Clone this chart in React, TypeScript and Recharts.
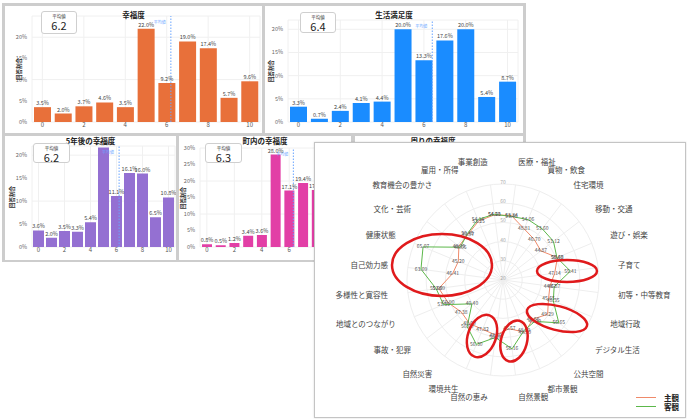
import {
  BarChart, Bar, XAxis, YAxis, CartesianGrid, ReferenceLine, LabelList,
  RadarChart, Radar, PolarGrid, PolarAngleAxis, PolarRadiusAxis,
} from 'recharts'

// score buckets 0..10 shared by the four histograms
const scores = [0, 1, 2, 3, 4, 5, 6, 7, 8, 9, 10]
const scoreTicks = [0, 2, 4, 6, 8, 10]

const happiness = [3.5, 2.0, 3.7, 4.6, 3.5, 22.0, 9.2, 19.0, 17.4, 5.7, 9.6]
const lifeSatisfaction = [3.3, 0.7, 2.4, 4.1, 4.4, 20.0, 13.3, 17.6, 20.0, 5.4, 8.7]
const happinessIn5Years = [3.6, 2.0, 3.5, 3.3, 5.4, 21.7, 11.1, 16.1, 16.0, 6.5, 10.8]
const townHappiness = [0.8, 0.5, 1.2, 3.4, 3.6, 28.0, 17.1, 19.4, 17.3, 4.5, 8.0]

const happinessAvg = 6.2
const lifeSatisfactionAvg = 6.4
const happinessIn5YearsAvg = 6.2
const townHappinessAvg = 6.3

const radarCategories = [
  '事業創造', '医療・福祉', '買物・飲食', '住宅環境', '移動・交通', '遊び・娯楽',
  '子育て', '初等・中等教育', '地域行政', 'デジタル生活', '公共空間', '都市景観',
  '自然景観', '自然の恵み', '環境共生', '自然災害', '事故・犯罪', '地域とのつながり',
  '多様性と寛容性', '自己効力感', '健康状態', '文化・芸術', '教育機会の豊かさ', '雇用・所得',
]
const subjective = [
  54.23, 53.84, 48.81, 46.70, 44.87, 50.68, 47.14, 44.67, 45.65, 49.29, 45.68, 49.50,
  45.57, 48.90, 47.82, 48.60, 47.38, 50.90, 53.69, 46.41, 45.20, 48.95, 49.97, 53.25,
]
const objective = [
  54.50, 53.40, 54.06, 53.60, 53.12, 50.40, 55.41, 46.87, 48.35, 56.65, 47.20, 48.50,
  56.16, 50.20, 56.30, 50.60, 40.40, 53.55, 55.09, 63.09, 65.07, 48.05, 50.45, 54.14,
]

const SUBJ_COLOR = '#ef8a6a'
const OBJ_COLOR = '#5cb84a'
const FONT = "'Noto Sans CJK JP', 'Noto Sans', sans-serif"

interface HistProps {
  title: string
  avg: number
  values: number[]
  color: string
  left: number
  top: number
  width: number
  height: number
  marginTop: number
  marginRight: number
  marginBottom: number
  yWidth: number
  yMax: number
  yTicks: number[]
  barSize: number
  box: { left: number; top: number; width: number; height: number }
  yLabelX: number
  titleTop: number
}

function Histogram(p: HistProps) {
  const rows = scores.map((s, i) => ({ score: s, pct: p.values[i] }))
  const plotMid = p.marginTop + (p.height - p.marginTop - p.marginBottom - 10) / 2
  return (
    <div style={{ position: 'absolute', left: p.left, top: p.top, width: p.width, height: p.height, background: '#fff', overflow: 'hidden' }}>
      <BarChart width={p.width} height={p.height} data={rows}
        margin={{ top: p.marginTop, right: p.marginRight, bottom: p.marginBottom, left: 0 }}>
        <CartesianGrid stroke="#f0f0f0" />
        <XAxis dataKey="score" type="number" domain={[-0.5, 10.5]} ticks={scoreTicks} height={10}
          tick={{ fontSize: 6, fill: '#555' }} axisLine={false} tickLine={false} tickSize={0} tickMargin={1} />
        <YAxis width={p.yWidth} domain={[0, p.yMax]} ticks={p.yTicks} tickFormatter={v => `${v}%`}
          tick={{ fontSize: 5.5, fill: '#666' }} axisLine={false} tickLine={false} tickSize={3} allowDataOverflow />
        <ReferenceLine x={p.avg} stroke="#6aa5ff" strokeDasharray="1.5 1.5"
          label={{ value: '平均値', position: 'insideTopRight', fontSize: 4, fill: '#6aa5ff' }} />
        <Bar dataKey="pct" fill={p.color} barSize={p.barSize} isAnimationActive={false}>
          <LabelList dataKey="pct" position="top" offset={2}
            formatter={(v: any) => `${Number(v).toFixed(1)}%`} style={{ fontSize: 5.5, fill: '#444' }} />
        </Bar>
      </BarChart>
      <div style={{ position: 'absolute', left: 0, right: 0, top: p.titleTop, textAlign: 'center', fontSize: 7.5, fontWeight: 700, color: '#222', lineHeight: '9px' }}>
        {p.title}
      </div>
      <div style={{
        position: 'absolute', left: p.box.left, top: p.box.top, width: p.box.width, height: p.box.height,
        border: '1px solid #cfcfcf', borderRadius: 3, background: '#fff', boxSizing: 'border-box', textAlign: 'center',
      }}>
        <div style={{ fontSize: 4.5, lineHeight: '6px', color: '#333', marginTop: 1 }}>平均値</div>
        <div style={{ fontSize: 11, lineHeight: '12px', color: '#222' }}>{p.avg.toFixed(1)}</div>
      </div>
      <div style={{
        position: 'absolute', left: p.yLabelX - 15, top: plotMid - 4, width: 30, textAlign: 'center',
        fontSize: 5.5, lineHeight: '8px', color: '#333', fontWeight: 700, transform: 'rotate(-90deg)',
      }}>回答割合</div>
    </div>
  )
}

const renderPointLabel = (props: any) => {
  const x = props.x ?? props.viewBox?.x
  const y = props.y ?? props.viewBox?.y
  if (x == null || y == null) return null
  return (
    <text x={x} y={y} dy={1.5} textAnchor="middle" fontSize={5} fill="#555" fontFamily={FONT}>
      {Number(props.value).toFixed(2)}
    </text>
  )
}

export default function App() {
  const radarData = radarCategories.map((c, i) => ({ category: c, subjective: subjective[i], objective: objective[i] }))

  return (
    <div style={{ position: 'absolute', left: 0, top: 0, width: 687, height: 419, overflow: 'hidden', background: '#fff', fontFamily: FONT }}>
      {/* dashboard behind */}
      <div style={{ position: 'absolute', left: 2, top: 3, width: 524, height: 259, background: '#cdcdcd' }} />
      <Histogram title="幸福度" avg={happinessAvg} values={happiness} color="#e8703a"
        left={5} top={6} width={257} height={127} marginTop={10} marginRight={2} marginBottom={1}
        yWidth={27} yMax={25} yTicks={[0, 5, 10, 15, 20]} barSize={17}
        box={{ left: 36, top: 5, width: 36, height: 23 }} yLabelX={14} titleTop={4} />
      <Histogram title="生活満足度" avg={lifeSatisfactionAvg} values={lifeSatisfaction} color="#1a8cff"
        left={265} top={6} width={258} height={127} marginTop={14} marginRight={5} marginBottom={1}
        yWidth={23} yMax={22} yTicks={[0, 5, 10, 15, 20]} barSize={17}
        box={{ left: 35, top: 6, width: 36, height: 21 }} yLabelX={6} titleTop={4} />
      <Histogram title="5年後の幸福度" avg={happinessIn5YearsAvg} values={happinessIn5Years} color="#9470d2"
        left={5} top={136} width={171} height={124} marginTop={10} marginRight={1} marginBottom={3}
        yWidth={27} yMax={22} yTicks={[0, 5, 10, 15, 20]} barSize={11}
        box={{ left: 28, top: 7, width: 37, height: 20 }} yLabelX={7} titleTop={0} />
      <Histogram title="町内の幸福度" avg={townHappinessAvg} values={townHappiness} color="#e23fa6"
        left={179} top={136} width={172} height={124} marginTop={12} marginRight={0} marginBottom={3}
        yWidth={21} yMax={30} yTicks={[0, 5, 10, 15, 20, 25, 30]} barSize={10}
        box={{ left: 26, top: 7, width: 37, height: 20 }} yLabelX={4} titleTop={0} />
      <div style={{ position: 'absolute', left: 355, top: 136, width: 168, height: 124, background: '#fff' }}>
        <div style={{ position: 'absolute', left: 40, top: 0, width: 76, textAlign: 'center', fontSize: 7.5, fontWeight: 700, lineHeight: '9px', color: '#222' }}>
          周りの幸福度
        </div>
      </div>

      {/* radar panel on top */}
      <div style={{
        position: 'absolute', left: 314, top: 142, width: 372, height: 276, background: '#fff',
        border: '1px solid #c4c4c4', boxSizing: 'border-box', boxShadow: '0 0 2px rgba(0,0,0,0.15)',
      }}>
        <RadarChart width={370} height={274} data={radarData} cx={188} cy={137} outerRadius={96}
          startAngle={97.5} endAngle={-262.5} margin={{ top: 0, right: 0, bottom: 0, left: 0 }}>
          <PolarGrid stroke="#eeeeee" gridType="circle" />
          <PolarAngleAxis dataKey="category" tick={{ fontSize: 7.5, fill: '#444' }} tickLine={false} axisLine={false} tickSize={20} />
          <PolarRadiusAxis angle={90} domain={[20, 70]} tickCount={6} orientation="middle"
            tick={{ fontSize: 5, fill: '#aaa' }} axisLine={false} tickLine={false} />
          <Radar name="主観" dataKey="subjective" stroke={SUBJ_COLOR} fill="none" strokeWidth={1}
            dot={false} isAnimationActive={false} label={renderPointLabel} />
          <Radar name="客観" dataKey="objective" stroke={OBJ_COLOR} fill="none" strokeWidth={1}
            dot={false} isAnimationActive={false} label={renderPointLabel} />
        </RadarChart>
        <div style={{ position: 'absolute', right: 6, bottom: 6, fontSize: 7.5, fontWeight: 700, lineHeight: '9px', color: '#222' }}>
          {[{ name: '主観', color: SUBJ_COLOR }, { name: '客観', color: OBJ_COLOR }].map(s => (
            <div key={s.name} style={{ display: 'flex', alignItems: 'center' }}>
              <span style={{ display: 'inline-block', width: 20, height: 1.5, background: s.color, marginRight: 8 }} />
              {s.name}
            </div>
          ))}
        </div>
      </div>

      {/* hand-drawn red highlight marks */}
      <svg width={687} height={419} style={{ position: 'absolute', left: 0, top: 0, pointerEvents: 'none' }}>
        <g fill="none" stroke="#e01a1c" strokeWidth={2.5}>
          <ellipse cx={442} cy={265} rx={50} ry={31} />
          <ellipse cx={567} cy={271} rx={30} ry={11} />
          <ellipse cx={557} cy={318} rx={31} ry={12} transform="rotate(15 557 318)" />
          <ellipse cx={514} cy={341} rx={13} ry={21} transform="rotate(15 514 341)" />
          <ellipse cx={482} cy={336} rx={14} ry={22} transform="rotate(20 482 336)" />
        </g>
      </svg>
    </div>
  )
}
